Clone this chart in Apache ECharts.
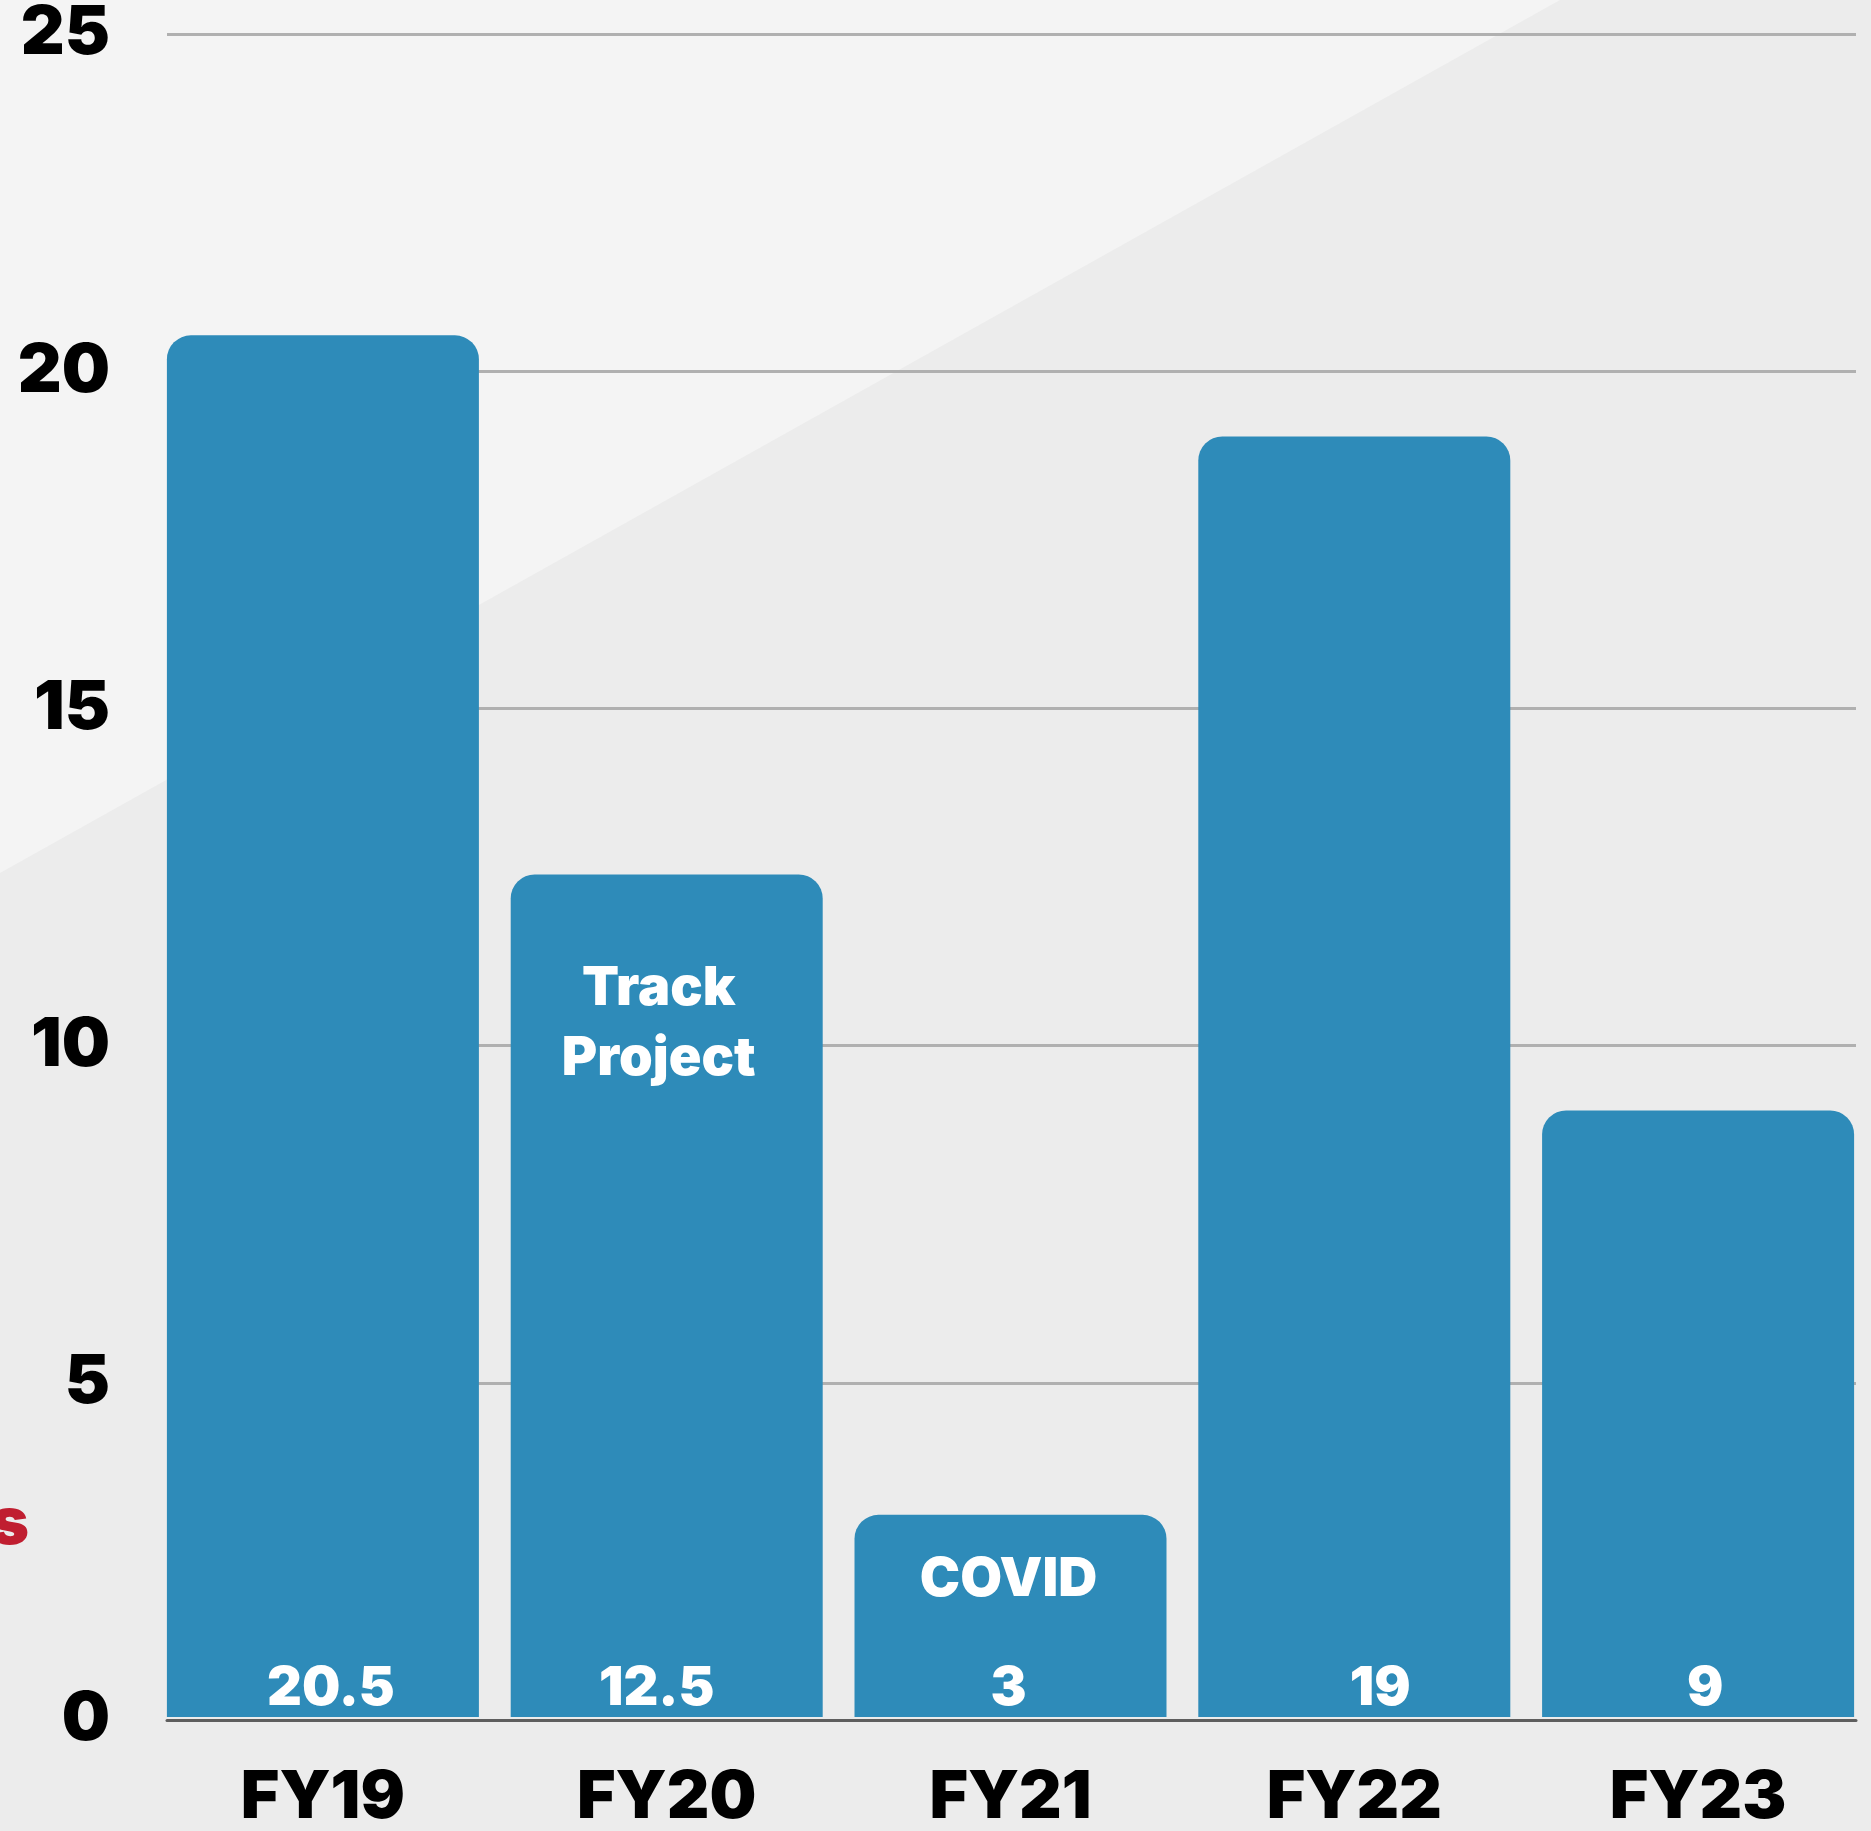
<!DOCTYPE html>
<html>
<head>
<meta charset="utf-8">
<script src="https://cdn.jsdelivr.net/npm/echarts@6/dist/echarts.min.js"></script>
<style>
html,body{margin:0;padding:0;background:#ececec;}
#chart{width:1871px;height:1831px;}
</style>
</head>
<body>
<div id="chart"></div>
<script>
const categories = ['FY19', 'FY20', 'FY21', 'FY22', 'FY23'];
const values = [20.5, 12.5, 3, 19, 9];
const yTicks = [0, 5, 10, 15, 20, 25];
const noteCategories = ['FY20', 'FY21'];
const noteTexts = ['Track\nProject', 'COVID'];
const noteValues = [10.29, 2.04];

// horizontal nudges of the value labels inside the bars (style, px)
const labelNudge = [8, -10, -2, 26, 7];

const FONT = 'Inter';
const chart = echarts.init(document.getElementById('chart'), null, {renderer: 'canvas'});

const option = {
  backgroundColor: '#ececec',
  animation: false,
  graphic: [
    {type: 'polygon', z: -10, silent: true,
     shape: {points: [[0, 0], [1560, 0], [0, 873]]},
     style: {fill: '#f4f4f4'}},
    {type: 'text', z: 10, silent: true, x: 29, y: 1524,
     style: {text: 's', fill: '#c01e30', font: '900 66px ' + FONT,
             textAlign: 'right', textVerticalAlign: 'middle', verticalAlign: 'middle'}}
  ],
  grid: [
    {left: 167, right: 15, top: 32, bottom: 111},
    {left: 151, right: 1, top: 32, bottom: 111}
  ],
  xAxis: [
    {type: 'category', gridIndex: 0, data: categories,
     axisLine: {show: true, lineStyle: {color: '#5e5e5e', width: 3}},
     axisTick: {show: false}, axisLabel: {show: false}, splitLine: {show: false}},
    {type: 'category', gridIndex: 1, data: categories,
     axisLine: {show: false}, axisTick: {show: false},
     axisLabel: {color: '#000', fontFamily: FONT, fontWeight: 900, fontSize: 66, margin: 48}}
  ],
  yAxis: [
    {type: 'value', gridIndex: 0, min: yTicks[0], max: yTicks[yTicks.length - 1], interval: 5,
     axisLine: {show: false}, axisTick: {show: false},
     axisLabel: {color: '#000', fontFamily: FONT, fontWeight: 900, fontSize: 68, margin: 57},
     splitLine: {lineStyle: {color: '#b0b0b0', width: 3}}},
    {type: 'value', gridIndex: 1, min: 0, max: 25, interval: 5, show: false,
     splitLine: {show: false}}
  ],
  series: [
    {type: 'bar', xAxisIndex: 1, yAxisIndex: 1, barWidth: 312,
     data: values.map((v, i) => ({value: v, label: {offset: [labelNudge[i], 0]}})),
     itemStyle: {color: '#2e8bb9', borderRadius: [24, 24, 0, 0]},
     label: {show: true, position: 'insideBottom', distance: 1, color: '#fff',
             fontFamily: FONT, fontWeight: 900, fontSize: 54},
     markPoint: {
       symbol: 'rect', symbolSize: 1, itemStyle: {color: 'rgba(0,0,0,0)'},
       label: {show: true, position: 'inside', color: '#fff', fontFamily: FONT,
               fontWeight: 900, fontSize: 54, lineHeight: 70, align: 'center'},
       data: noteCategories.map((c, i) => ({coord: [c, noteValues[i]], value: noteTexts[i],
              label: {formatter: noteTexts[i], offset: [i === 0 ? -8 : -2, 0]}}))
     }}
  ]
};
chart.setOption(option);
</script>
</body>
</html>
